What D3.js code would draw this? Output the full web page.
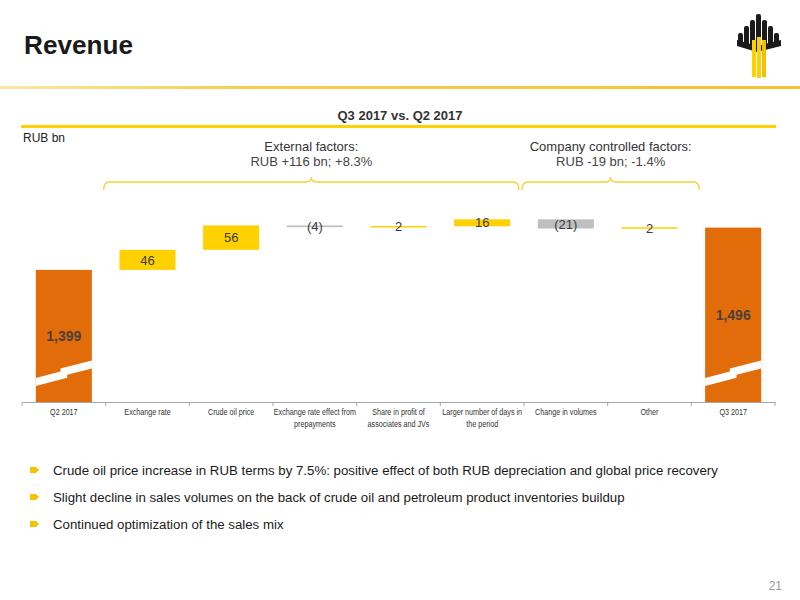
<!DOCTYPE html>
<html>
<head>
<meta charset="utf-8">
<script src="https://cdn.jsdelivr.net/npm/d3@7"></script>
<style>
  html, body { margin: 0; padding: 0; background: #fff; }
  svg { display: block; font-family: "Liberation Sans", Arial, sans-serif; }
</style>
</head>
<body>
<svg id="chart" width="800" height="600"></svg>
<script>
// ---- data ----
const categories = ["Q2 2017", "Exchange rate", "Crude oil price", "Exchange rate effect from prepayments",
  "Share in profit of associates and JVs", "Larger number of days in the period", "Change in volumes", "Other", "Q3 2017"];
const tickLabels = [["Q2 2017"], ["Exchange rate"], ["Crude oil price"], ["Exchange rate effect from", "prepayments"],
  ["Share in profit of", "associates and JVs"], ["Larger number of days in", "the period"], ["Change in volumes"], ["Other"], ["Q3 2017"]];
const values = [1399, 46, 56, -4, 2, 16, -21, 2, 1496];
const valueLabels = ["1,399", "46", "56", "(4)", "2", "16", "(21)", "2", "1,496"];
const barTypes = ["total", "up", "up", "down", "up", "up", "down", "up", "total"];
const groupTitles = ["External factors:", "Company controlled factors:"];
const groupSubtitles = ["RUB +116 bn; +8.3%", "RUB -19 bn; -1.4%"];
const groupRanges = [[1, 5], [6, 7]];
const bullets = [
  "Crude oil price increase in RUB terms by 7.5%: positive effect of both RUB depreciation and global price recovery",
  "Slight decline in sales volumes on the back of crude oil and petroleum product inventories buildup",
  "Continued optimization of the sales mix"
];

const colors = { total: "#E36C0A", up: "#FFD100", down: "#BFBFBF" };
const svg = d3.select("#chart");

// ---- header ----
const defs = svg.append("defs");
const grad = defs.append("linearGradient").attr("id", "hdr").attr("x1", "0%").attr("x2", "100%");
grad.append("stop").attr("offset", "0%").attr("stop-color", "#FBE6A6");
grad.append("stop").attr("offset", "30%").attr("stop-color", "#F6CF4E");
grad.append("stop").attr("offset", "100%").attr("stop-color", "#F4C430");
svg.append("rect").attr("x", 0).attr("y", 86).attr("width", 800).attr("height", 3).attr("fill", "url(#hdr)");

svg.append("text").attr("x", 24).attr("y", 54).attr("font-size", 26).attr("font-weight", "bold")
  .attr("fill", "#1a1a1a").attr("textLength", 109).attr("lengthAdjust", "spacingAndGlyphs").text("Revenue");

// logo
const logo = svg.append("g");
const logoBars = [[738, 33, 44], [744, 26, 46], [750, 20, 48], [756, 14, 48], [762, 20, 48], [768, 26, 46], [774, 33, 44]];
logoBars.forEach(b => {
  logo.append("rect").attr("x", b[0]).attr("y", b[1]).attr("width", 5).attr("height", b[2] - b[1])
    .attr("rx", 2).attr("fill", "#1a1a1a");
});
logo.append("path").attr("d", "M737,40 L757,46 L781,40 L781,46 L757,52 L737,46 Z").attr("fill", "#1a1a1a");
logo.append("rect").attr("x", 752).attr("y", 40).attr("width", 4).attr("height", 37).attr("fill", "#FFD100");
logo.append("rect").attr("x", 757).attr("y", 37).attr("width", 4).attr("height", 41).attr("fill", "#FFD100");
logo.append("rect").attr("x", 762).attr("y", 40).attr("width", 4).attr("height", 37).attr("fill", "#F2C200");

// chart title
svg.append("text").attr("x", 400).attr("y", 120).attr("text-anchor", "middle").attr("font-size", 13)
  .attr("font-weight", "bold").attr("fill", "#333").text("Q3 2017 vs. Q2 2017");
svg.append("rect").attr("x", 21).attr("y", 125).attr("width", 755).attr("height", 3).attr("fill", "#FFD100");
svg.append("text").attr("x", 23).attr("y", 142).attr("font-size", 12).attr("fill", "#222").text("RUB bn");

// ---- scales ----
const x = d3.scaleBand().domain(categories).range([22, 775]).paddingInner(0.33).paddingOuter(0.165);
const y = d3.scaleLinear().domain([1096, 1496]).range([402, 227.6]);

// waterfall data
let run = 0;
const bars = values.map((v, i) => {
  let y0, y1;
  if (barTypes[i] === "total") { y0 = y.domain()[0]; y1 = v; run = v; }
  else { y0 = run; y1 = run + v; run = y1; }
  return { cat: categories[i], v, lo: Math.min(y0, y1), hi: Math.max(y0, y1), type: barTypes[i], label: valueLabels[i] };
});

const g = svg.append("g");
g.selectAll("rect.bar").data(bars).join("rect").attr("class", "bar")
  .attr("x", d => x(d.cat)).attr("width", x.bandwidth())
  .attr("y", d => { const h = y(d.lo) - y(d.hi); return h < 1.5 ? (y(d.lo) + y(d.hi)) / 2 - 0.75 : y(d.hi); })
  .attr("height", d => Math.max(1.5, y(d.lo) - y(d.hi)))
  .attr("fill", d => colors[d.type]);

// axis break marks
bars.filter(d => d.type === "total").forEach(d => {
  const x0 = x(d.cat), w = x.bandwidth(), yb = y.range()[0] - 24, th = 8, s = 0.26;
  const pts1 = [[0, 0], [0.56 * w, -s * 0.56 * w], [0.56 * w, -s * 0.56 * w + th], [0, th]];
  const pts2 = [[0.44 * w, -3 - s * 0.44 * w], [w, -3 - s * w], [w, -3 - s * w + th], [0.44 * w, -3 - s * 0.44 * w + th]];
  [pts1, pts2].forEach(p => g.append("polygon").attr("fill", "#fff")
    .attr("points", p.map(q => (x0 + q[0]) + "," + (yb + q[1])).join(" ")));
});

// labels
g.selectAll("text.val").data(bars).join("text").attr("class", "val")
  .attr("x", d => x(d.cat) + x.bandwidth() / 2)
  .attr("y", d => (y(d.lo) + y(d.hi)) / 2)
  .attr("dy", "0.36em").attr("text-anchor", "middle")
  .attr("font-size", d => d.type === "total" ? 14 : 13)
  .attr("font-weight", d => d.type === "total" ? "bold" : "normal")
  .attr("fill", d => d.type === "total" ? "#4a4038" : "#3a3a3a")
  .text(d => d.label);

// axis
const axis = svg.append("g").attr("transform", "translate(0,402)")
  .call(d3.axisBottom(x).tickSize(0).tickFormat(""));
axis.select(".domain").attr("stroke", "#A6A6A6");
const step = x.step();
const bounds = categories.map(c => x(c) - x.paddingInner() * step / 2);
bounds.push(bounds[bounds.length - 1] + step);
axis.selectAll("line.bt").data(bounds).join("line").attr("class", "bt")
  .attr("x1", d => d).attr("x2", d => d).attr("y1", 0).attr("y2", 4).attr("stroke", "#A6A6A6");
const tl = axis.selectAll("text.tl").data(categories).join("text").attr("class", "tl")
  .attr("text-anchor", "middle").attr("font-size", 9).attr("fill", "#333")
  .attr("transform", d => "translate(" + (x(d) + x.bandwidth() / 2) + ",0) scale(0.8,1)");
tl.each(function(d, i) {
  const t = d3.select(this);
  tickLabels[i].forEach((line, j) => t.append("tspan").attr("x", 0).attr("y", 13 + j * 12).text(line));
});

// brackets
const bracketAdj = [[-2, -5], [-2, 8]];
groupRanges.forEach((r, k) => {
  const xa = bounds[r[0]] + bracketAdj[k][0], xb = bounds[r[1] + 1] + bracketAdj[k][1];
  const xm = (xa + xb) / 2, yl = 182;
  svg.append("path").attr("fill", "none").attr("stroke", "#F7CF3A").attr("stroke-width", 1.3)
    .attr("d", `M${xa},190 Q${xa},${yl} ${xa + 6},${yl} L${xm - 5},${yl} Q${xm},${yl} ${xm},${yl - 5} Q${xm},${yl} ${xm + 5},${yl} L${xb - 6},${yl} Q${xb},${yl} ${xb},190`);
  svg.append("text").attr("x", xm).attr("y", 151).attr("text-anchor", "middle").attr("font-size", 13)
    .attr("fill", "#333").text(groupTitles[k]);
  svg.append("text").attr("x", xm).attr("y", 166).attr("text-anchor", "middle").attr("font-size", 13)
    .attr("fill", "#444").text(groupSubtitles[k]);
});

// bullets
bullets.forEach((b, i) => {
  const yy = 470 + i * 27;
  svg.append("path").attr("d", `M30,${yy - 3} L36,${yy - 3} L39,${yy} L36,${yy + 3} L30,${yy + 3} Z`).attr("fill", "#F5C400");
  svg.append("text").attr("x", 53).attr("y", yy).attr("dy", "0.35em").attr("font-size", 13.25)
    .attr("fill", "#1a1a1a").text(b);
});

svg.append("text").attr("x", 782).attr("y", 590).attr("text-anchor", "end").attr("font-size", 12)
  .attr("fill", "#999").text("21");
</script>
</body>
</html>
